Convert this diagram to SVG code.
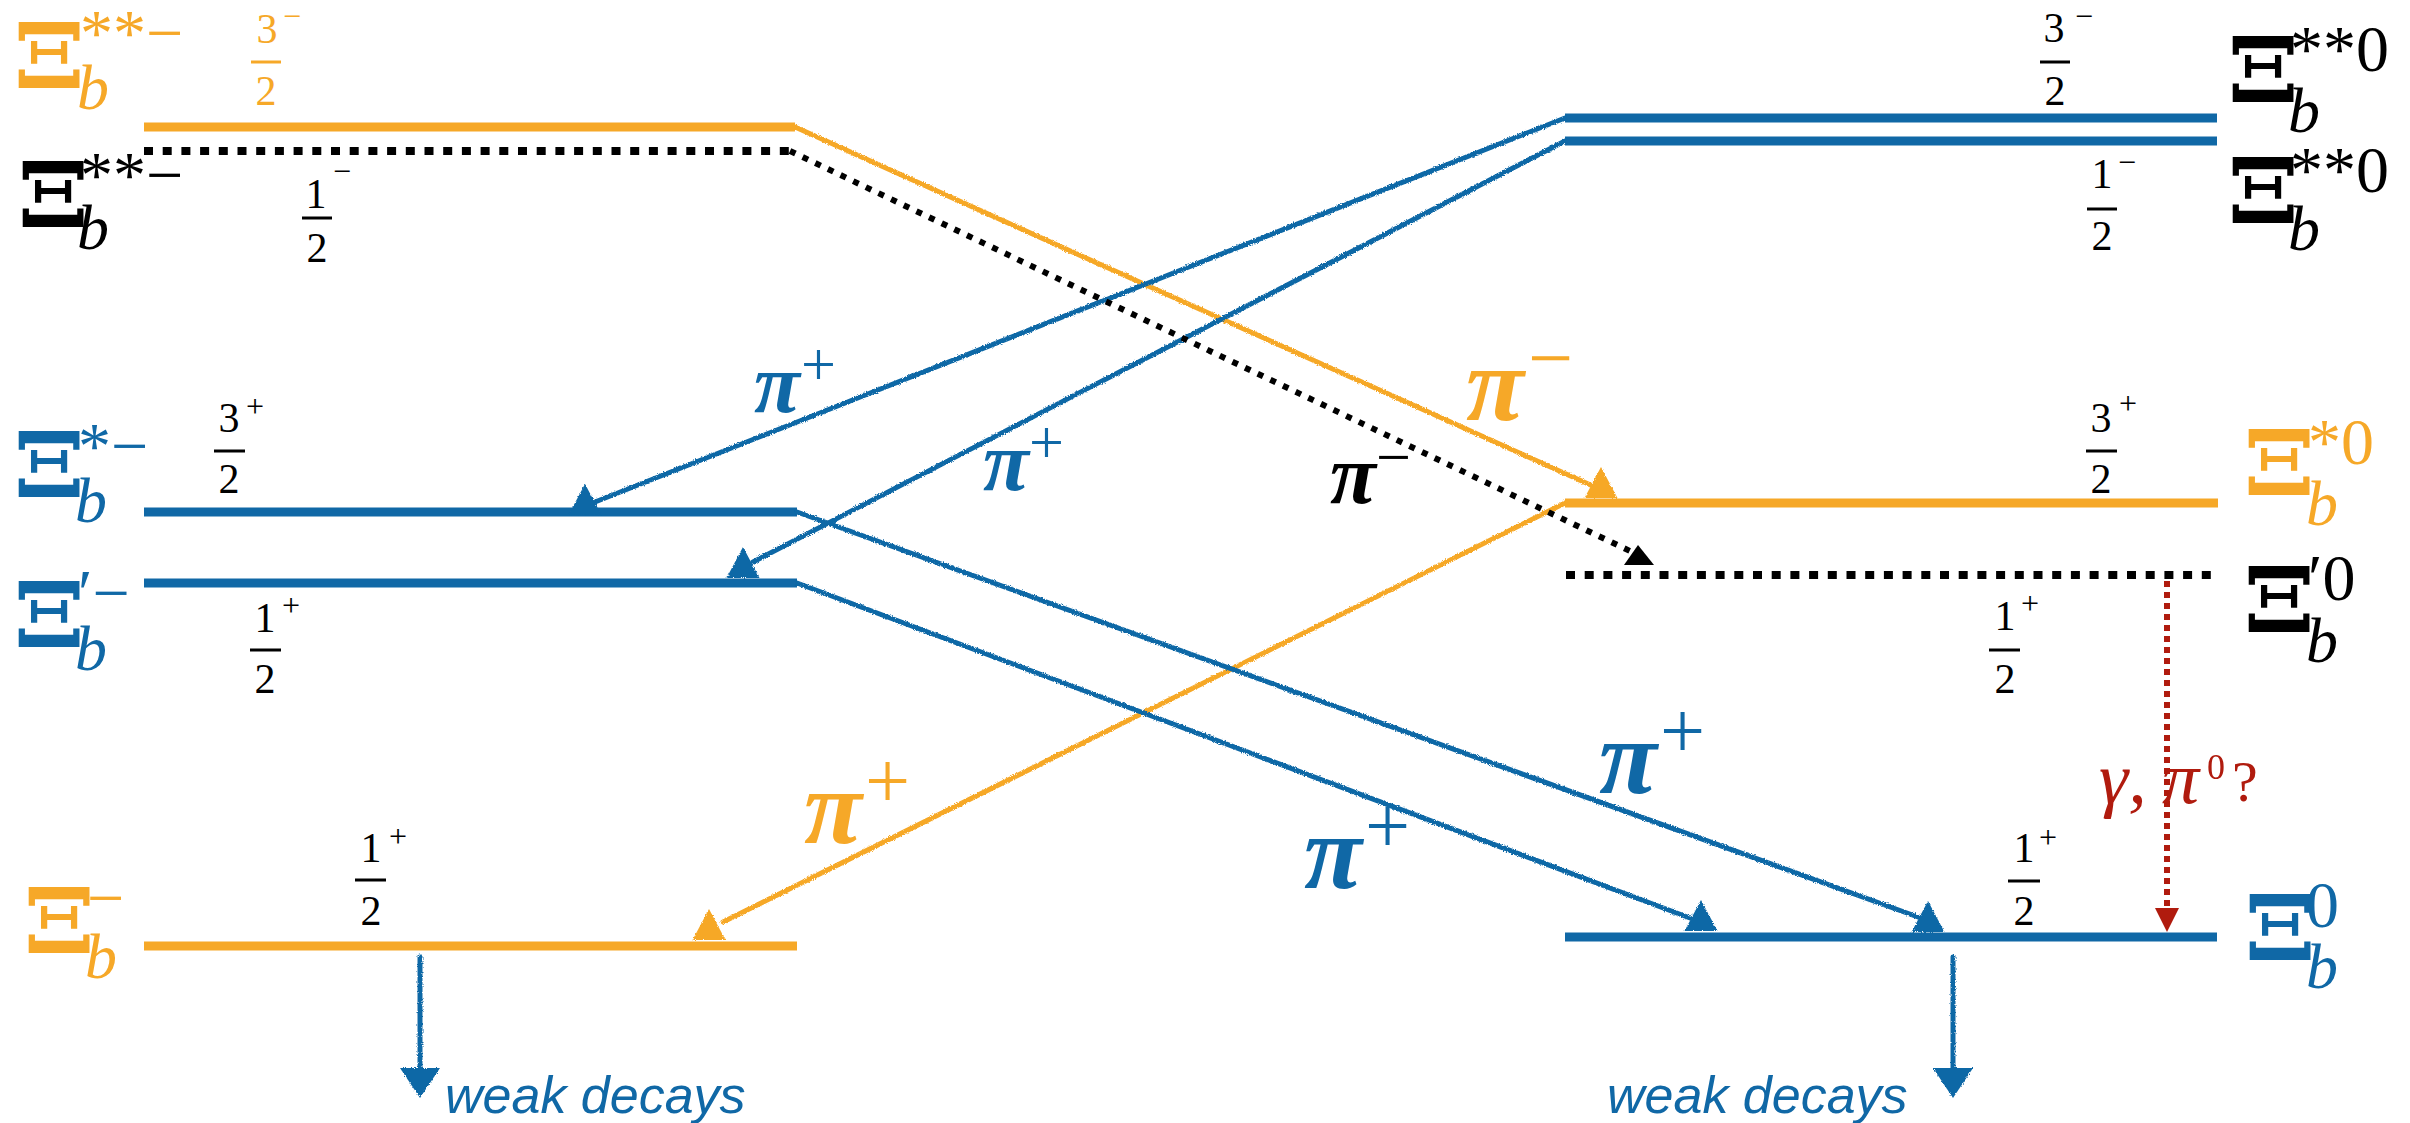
<svg xmlns="http://www.w3.org/2000/svg" xmlns:xlink="http://www.w3.org/1999/xlink" width="2410" height="1123" viewBox="0 0 2410 1123">
<defs>
<style>
.lvl{fill:none;stroke-width:9}
.o{stroke:#F6A828}
.bl{stroke:#1068A6}
.dotl{fill:none;stroke:#000;stroke-width:8;stroke-dasharray:9 9.7}
.con{fill:none;stroke-width:5;stroke-linecap:round}
.bar{stroke-width:3}
.xi{font-family:"DejaVu Serif",serif;font-weight:bold;font-size:90px}
.sb{font-family:"Liberation Serif","Times New Roman",serif;font-style:italic;font-size:64px}
.sp{font-family:"Liberation Serif","Times New Roman",serif;font-size:66px}
.fr{font-family:"Liberation Serif","Times New Roman",serif;font-size:42px;text-anchor:middle}
.fs{font-family:"Liberation Serif","Times New Roman",serif;font-size:32px}
.pi{font-family:"Liberation Serif","Times New Roman",serif;font-style:italic;font-weight:bold;font-size:84px}
.pis{font-family:"Liberation Serif","Times New Roman",serif;font-size:62px}
.pb{font-family:"Liberation Serif","Times New Roman",serif;font-style:italic;font-weight:bold;font-size:106px}
.pbs{font-family:"Liberation Serif","Times New Roman",serif;font-size:80px}
.gr{font-family:"Liberation Serif","Times New Roman",serif;font-style:italic;font-size:74px}
.wk{font-family:"Liberation Sans",Arial,sans-serif;font-style:italic;font-size:52px;fill:#1068A6}
.tO{fill:#F6A828}
.tB{fill:#1068A6}
.tK{fill:#000}
.tR{fill:#B01B0E}
</style>
<filter id="rough" filterUnits="userSpaceOnUse" x="0" y="0" width="2410" height="1123">
<feTurbulence type="fractalNoise" baseFrequency="0.9" numOctaves="1" seed="4" result="n"/>
<feDisplacementMap in="SourceGraphic" in2="n" scale="3.5" xChannelSelector="R" yChannelSelector="G"/>
</filter>
<path id="tri" d="M0,-31 L16.5,0 L-16.5,0 Z"/>
<path id="trid" d="M-20,0 L20,0 L0,30 Z"/>
</defs>
<rect width="2410" height="1123" fill="#fff"/>

<g id="xib_ss_minus_3half">
<line class="lvl o" x1="144" y1="127" x2="795" y2="127"/>
<text class="xi tO" transform="translate(13,88) scale(1.15,1)">Ξ</text>
<text class="sb tO" x="77" y="109">b</text>
<text class="sp tO" x="80" y="55">**−</text>
<text class="fr tO" x="267" y="43">3</text>
<text class="fs tO" x="283" y="27">−</text>
<line class="bar o" x1="251" y1="62" x2="281" y2="62"/>
<text class="fr tO" x="266" y="105">2</text>
</g>

<g id="xib_ss_minus_1half">
<line class="dotl" x1="144" y1="151" x2="792" y2="151"/>
<text class="xi tK" transform="translate(17,227) scale(1.15,1)">Ξ</text>
<text class="sb tK" x="77" y="249">b</text>
<text class="sp tK" x="80" y="197">**−</text>
<text class="fr tK" x="316" y="208">1</text>
<text class="fs tK" x="333" y="182">−</text>
<line class="bar" stroke="#000" x1="302" y1="218" x2="332" y2="218"/>
<text class="fr tK" x="317" y="262">2</text>
</g>

<g id="xib_s_minus">
<line class="lvl bl" x1="144" y1="512" x2="797" y2="512"/>
<text class="xi tB" transform="translate(13,497) scale(1.15,1)">Ξ</text>
<text class="sb tB" x="75" y="522">b</text>
<text class="sp tB" x="78" y="468">*−</text>
<text class="fr tK" x="229" y="432">3</text>
<text class="fs tK" x="246" y="417">+</text>
<line class="bar" stroke="#000" x1="214" y1="451" x2="245" y2="451"/>
<text class="fr tK" x="229" y="493">2</text>
</g>

<g id="xib_p_minus">
<line class="lvl bl" x1="144" y1="583" x2="797" y2="583"/>
<text class="xi tB" transform="translate(13,647) scale(1.15,1)">Ξ</text>
<text class="sb tB" x="75" y="670">b</text>
<text class="sp tB" x="78" y="615">′−</text>
<text class="fr tK" x="265" y="632">1</text>
<text class="fs tK" x="282" y="616">+</text>
<line class="bar" stroke="#000" x1="250" y1="650" x2="281" y2="650"/>
<text class="fr tK" x="265" y="693">2</text>
</g>

<g id="xib_minus">
<line class="lvl o" x1="144" y1="946" x2="797" y2="946"/>
<text class="xi tO" transform="translate(23,953) scale(1.15,1)">Ξ</text>
<text class="sp tO" x="87" y="920">−</text>
<text class="sb tO" x="85" y="978">b</text>
<text class="fr tK" x="371" y="862">1</text>
<text class="fs tK" x="389" y="847">+</text>
<line class="bar" stroke="#000" x1="355" y1="880" x2="386" y2="880"/>
<text class="fr tK" x="371" y="925">2</text>
</g>

<g id="xib_ss0_3half">
<line class="lvl bl" x1="1565" y1="118" x2="2217" y2="118"/>
<text class="xi tK" transform="translate(2227,102) scale(1.15,1)">Ξ</text>
<text class="sb tK" x="2288" y="132">b</text>
<text class="sp tK" x="2290" y="71">**0</text>
<text class="fr tK" x="2054" y="42">3</text>
<text class="fs tK" x="2075" y="27">−</text>
<line class="bar" stroke="#000" x1="2040" y1="62" x2="2070" y2="62"/>
<text class="fr tK" x="2055" y="105">2</text>
</g>

<g id="xib_ss0_1half">
<line class="lvl bl" x1="1565" y1="141" x2="2217" y2="141"/>
<text class="xi tK" transform="translate(2227,223) scale(1.15,1)">Ξ</text>
<text class="sb tK" x="2288" y="250">b</text>
<text class="sp tK" x="2290" y="192">**0</text>
<text class="fr tK" x="2102" y="188">1</text>
<text class="fs tK" x="2118" y="173">−</text>
<line class="bar" stroke="#000" x1="2087" y1="209" x2="2117" y2="209"/>
<text class="fr tK" x="2102" y="250">2</text>
</g>

<g id="xib_s0">
<line class="lvl o" x1="1565" y1="503" x2="2218" y2="503"/>
<text class="xi tO" transform="translate(2243,495) scale(1.15,1)">Ξ</text>
<text class="sb tO" x="2306" y="525">b</text>
<text class="sp tO" x="2308" y="464">*0</text>
<text class="fr tK" x="2101" y="432">3</text>
<text class="fs tK" x="2119" y="414">+</text>
<line class="bar" stroke="#000" x1="2086" y1="451" x2="2117" y2="451"/>
<text class="fr tK" x="2101" y="493">2</text>
</g>

<g id="xib_p0">
<line class="dotl" x1="1566" y1="575" x2="2212" y2="575"/>
<text class="xi tK" transform="translate(2243,632) scale(1.15,1)">Ξ</text>
<text class="sb tK" x="2306" y="662">b</text>
<text class="sp tK" x="2308" y="600">′0</text>
<text class="fr tK" x="2005" y="630">1</text>
<text class="fs tK" x="2021" y="614">+</text>
<line class="bar" stroke="#000" x1="1989" y1="650" x2="2020" y2="650"/>
<text class="fr tK" x="2005" y="693">2</text>
</g>

<g id="xib0">
<line class="lvl bl" x1="1565" y1="937" x2="2217" y2="937"/>
<text class="xi tB" transform="translate(2244,960) scale(1.15,1)">Ξ</text>
<text class="sb tB" x="2306" y="988">b</text>
<text class="sp tB" x="2306" y="927">0</text>
<text class="fr tK" x="2024" y="862">1</text>
<text class="fs tK" x="2039" y="848">+</text>
<line class="bar" stroke="#000" x1="2008" y1="881" x2="2040" y2="881"/>
<text class="fr tK" x="2024" y="925">2</text>
</g>

<g id="connectors">
<g filter="url(#rough)">
<line class="con o" x1="795" y1="127" x2="1595" y2="487"/>
<use xlink:href="#tri" x="1601" y="498" fill="#F6A828"/>
<line class="con bl" x1="1565" y1="118" x2="595" y2="502"/>
<use xlink:href="#tri" x="585" y="515" fill="#1068A6"/>
<line class="con bl" x1="1565" y1="141" x2="753" y2="562"/>
<use xlink:href="#tri" x="743" y="578" fill="#1068A6"/>
<line class="con o" x1="1565" y1="503" x2="723" y2="922"/>
<use xlink:href="#tri" x="709" y="940" fill="#F6A828"/>
<line class="con bl" x1="797" y1="512" x2="1918" y2="917"/>
<use xlink:href="#tri" x="1928" y="932" fill="#1068A6"/>
<line class="con bl" x1="797" y1="583" x2="1690" y2="918"/>
<use xlink:href="#tri" x="1701" y="931" fill="#1068A6"/>
<line class="con bl" x1="420" y1="957" x2="420" y2="1072"/>
<use xlink:href="#trid" x="420" y="1068" fill="#1068A6"/>
<line class="con bl" x1="1953" y1="957" x2="1953" y2="1072"/>
<use xlink:href="#trid" x="1953" y="1068" fill="#1068A6"/>
</g>
<line x1="790" y1="151" x2="1630" y2="551" stroke="#000" stroke-width="6" stroke-dasharray="6 8"/>
<path d="M1638,545 L1654,565 L1624,565 Z" fill="#000"/>
<line x1="2167" y1="581" x2="2167" y2="910" stroke="#B01B0E" stroke-width="6" stroke-dasharray="6 5"/>
<path d="M2155,908 L2179,908 L2167,932 Z" fill="#B01B0E"/>
</g>

<g id="labels">
<text class="pi tB" x="754" y="412">π</text><text class="pis tB" x="801" y="385">+</text>
<text class="pi tB" x="983" y="490">π</text><text class="pis tB" x="1029" y="463">+</text>
<text class="pi tK" x="1330" y="503">π</text><text class="pis tK" x="1376" y="478">−</text>
<text class="pb tO" x="1466" y="420">π</text><text class="pbs tO" x="1528" y="385">−</text>
<text class="pb tO" x="804" y="843">π</text><text class="pbs tO" x="865" y="808">+</text>
<text class="pb tB" x="1599" y="793">π</text><text class="pbs tB" x="1660" y="758">+</text>
<text class="pb tB" x="1304" y="888">π</text><text class="pbs tB" x="1365" y="853">+</text>
<text class="gr tR" x="2099" y="803">γ,</text>
<text class="gr tR" x="2162" y="803">π</text>
<text class="fs tR" x="2207" y="779" style="font-size:36px">0</text>
<text class="sp tR" x="2232" y="801" style="font-size:58px">?</text>
<text class="wk" x="445" y="1113">weak decays</text>
<text class="wk" x="1607" y="1113">weak decays</text>
</g>
</svg>
